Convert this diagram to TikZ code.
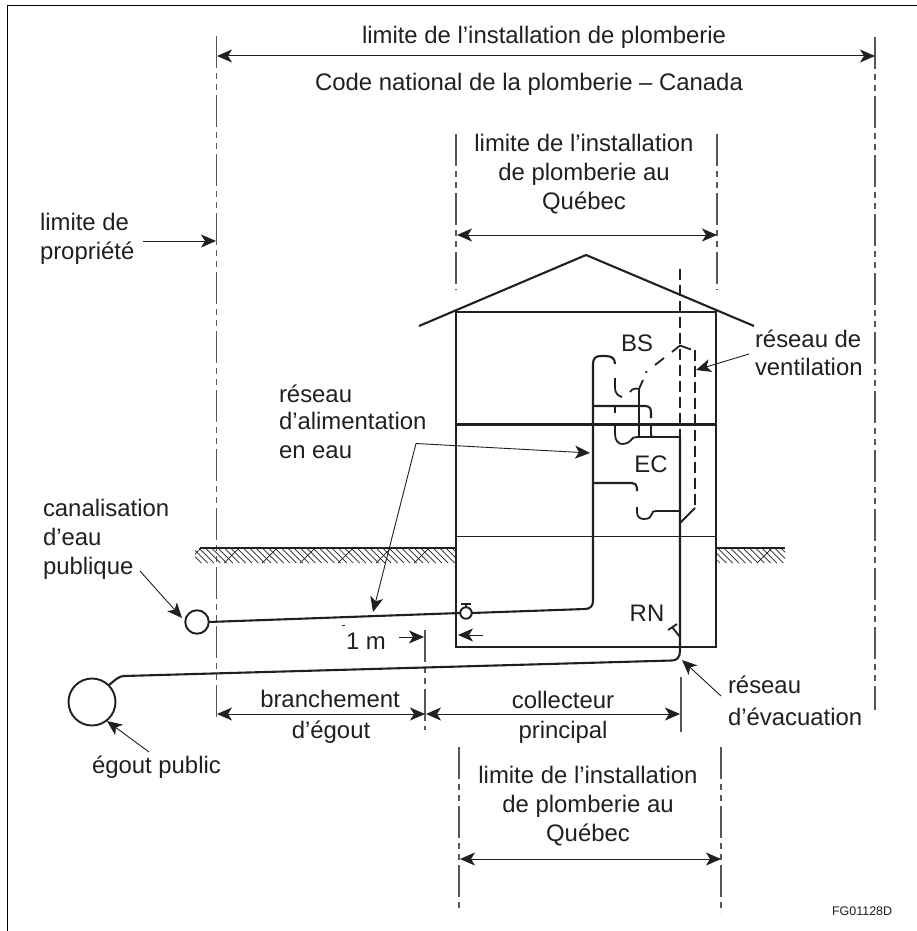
\documentclass[tikz,border=0pt]{standalone}
\usepackage{fontspec}
\setmainfont{Liberation Sans}
\usetikzlibrary{arrows.meta}
\definecolor{ink}{HTML}{231F20}
\tikzset{
  lbl/.style={font=\fontsize{23.9}{29}\selectfont,text=ink,inner sep=0pt,outer sep=0pt,anchor=base},
  lbll/.style={lbl,anchor=base west},
  frameline/.style={draw=black,line width=1.5pt},
  limit/.style={draw=ink!75,line width=1.1pt,dash pattern=on 32pt off 5pt on 6pt off 5pt on 6pt off 5pt},
  limitsolid/.style={draw=ink!75,line width=1.1pt},
  wall/.style={draw=ink,line width=2.1pt},
  thinwall/.style={draw=ink,line width=0.9pt},
  pipe/.style={draw=ink,line width=2.1pt},
  pipeb/.style={draw=ink,line width=1.8pt},
  ventd/.style={draw=ink,line width=1.9pt,dash pattern=on 11pt off 5pt},
  dim/.style={draw=ink,line width=1pt,{Stealth[length=15pt,width=13pt,inset=4pt]}-{Stealth[length=15pt,width=13pt,inset=4pt]}},
  lead/.style={draw=ink,line width=0.9pt,-{Stealth[length=15pt,width=13pt,inset=4pt]}},
  hatchl/.style={draw=ink,line width=0.7pt},
  pipenode/.style={circle,draw=ink,line width=1.9pt,inner sep=0pt,outer sep=0pt}
}
\begin{document}
\begin{tikzpicture}[x=1pt,y=-1pt]
\useasboundingbox (0,0) rectangle (917,931);
\fill[white] (0,0) rectangle (917,931);
% frame
\draw[frameline] (7.5,931) -- (7.5,5.5) -- (917,5.5);
% limit lines
\draw[limit] (216.5,36) -- (216.5,722);
\draw[limit] (875,37) -- (875,710);
\draw[limit] (456,134) -- (456,290);
\draw[limit] (717,134) -- (717,290);
\draw[limit] (425,630) -- (425,730);
\draw[limitsolid] (681,677) -- (681,732);
\draw[limit] (459,747) -- (459,913);
\draw[limit] (721,747) -- (721,913);
% named ends for dimension arrows
\coordinate (a1) at (217,56); \coordinate (a2) at (875,56);
\coordinate (q1) at (457,235); \coordinate (q2) at (717,235);
\coordinate (b1) at (217,714); \coordinate (b2) at (425,714);
\coordinate (c1) at (426,714); \coordinate (c2) at (680,714);
\coordinate (d1) at (460,859); \coordinate (d2) at (721,859);
\draw[dim] (a1) -- (a2);
\draw[dim] (q1) -- (q2);
\draw[dim] (b1) -- (b2);
\draw[dim] (c1) -- (c2);
\draw[dim] (d1) -- (d2);
% hatching
\begin{scope}
\clip (195,548) rectangle (456,563);
\foreach \x in {180,186.33,...,460} {\draw[hatchl] (\x,548) -- (\x+15,563);}
\foreach \x in {201,239,...,460} {\draw[hatchl] (\x,548) -- (\x-15,563);}
\end{scope}
\begin{scope}
\clip (717,548) rectangle (785,563);
\foreach \x in {705,711.33,...,790} {\draw[hatchl] (\x,548) -- (\x+15,563);}
\foreach \x in {772,810} {\draw[hatchl] (\x,548) -- (\x-15,563);}
\end{scope}
\draw[draw=ink,line width=1.1pt] (200,548) -- (456,548);
\draw[draw=ink,line width=1.1pt] (717,548) -- (785,548);
% house
\draw[wall] (419,326) -- (586,255) -- (754,326);
\draw[wall] (456,647) -- (456,312) -- (716,312) -- (716,647) -- cycle;
\draw[wall] (456,424.5) -- (716,424.5);
\draw[thinwall] (456,536) -- (716,536);
% mains
\node[pipenode,minimum size=23.5pt] (water) at (197,622) {};
\node[pipenode,minimum size=47pt] (sewer) at (92,702) {};
\node[pipenode,minimum size=11.5pt] (valve) at (466,613) {};
\draw[pipeb] (valve.north) ++(0,-3) -- (valve.north);
\draw[pipeb] (461,604) -- (471,604);
% water supply
\draw[pipe] (water.east) -- (valve.west);
\draw[pipe] (valve.east) -- (585,609) .. controls (590,609) and (593,606) .. (593,601)
  -- (593,364) .. controls (593,358) and (596,356) .. (601,356) -- (606,356)
  .. controls (612,356) and (615,359) .. (615,364);
\draw[pipeb] (615,378) -- (615,388) .. controls (615,393) and (618,396) .. (622,397);
\draw[pipe] (593,406) -- (645,406) .. controls (649,406) and (651,408) .. (651,412) -- (651,418);
\draw[pipeb] (651,425) -- (651,435) .. controls (651,436) and (652,437) .. (654,437);
\draw[pipe] (593,483) -- (632,483) .. controls (635,483) and (637,485) .. (637,488) -- (637,491);
% drain
\draw[pipeb] (615,406) -- (615,413);
\draw[pipeb] (615,425) -- (615,434) .. controls (615,440) and (618,444) .. (622,444)
  .. controls (628,444) and (630,441) .. (631,440) .. controls (632,438) and (634,437) .. (637,437) -- (680,437);
\draw[pipe] (680,437) -- (680,651) .. controls (680,657) and (677,660.5) .. (672,660.5) -- (124,676)
  .. controls (119,676) and (115,680) .. (sewer.45);
\draw[pipeb] (637,507) -- (637,512) .. controls (637,517) and (640,519) .. (644,519)
  .. controls (649,519) and (651,517) .. (652,514) .. controls (652,512) and (653,511) .. (656,511) -- (680,511);
\draw[pipeb] (639,437) -- (639,389) -- (636,388.5) .. controls (633,388.5) and (631,390) .. (630,392);
% vent
\draw[pipeb] (639,389) -- (643,380);
\draw[pipeb] (645.5,372.5) -- (647,371.5);
\draw[pipeb] (655,365) -- (664,358);
\draw[pipeb] (672,352) -- (680,345.5) -- (691,349.5);
\draw[ventd] (680,269) -- (680,437);
\draw[ventd] (695,350) -- (695,508);
\draw[pipeb] (695,508) -- (680,523);
% RN branch
\draw[pipeb] (668,630) -- (677,624);
\draw[pipeb] (672,627) -- (680,637);
\draw[thinwall] (342,625.5) -- (345,625.5);
% leaders
\coordinate (l1a) at (140,571); \coordinate (l1b) at (182,618);
\draw[lead] (l1a) -- (l1b);
\coordinate (l2a) at (149,752); \coordinate (l2b) at (107,721);
\draw[lead] (l2a) -- (l2b);
\coordinate (l3a) at (143,241); \coordinate (l3b) at (216,241);
\draw[lead] (l3a) -- (l3b);
\coordinate (l4a) at (749,354); \coordinate (l4b) at (696,370);
\draw[lead] (l4a) -- (l4b);
\coordinate (l5a) at (721,696); \coordinate (l5b) at (682,660);
\draw[lead] (l5a) -- (l5b);
\coordinate (l6) at (416,443.5); \coordinate (l6a) at (590,453); \coordinate (l6b) at (373,612);
\draw[lead] (l6) -- (l6a);
\draw[lead] (l6) -- (l6b);
\coordinate (m1a) at (399,637); \coordinate (m1b) at (424,637);
\draw[lead] (m1a) -- (m1b);
\coordinate (m2a) at (483,635); \coordinate (m2b) at (458,635);
\draw[lead] (m2a) -- (m2b);
% texts
\node[lbl] (t1) at (544,44) {limite de l’installation de plomberie};
\node[lbl] (t2) at (529,91) {Code national de la plomberie – Canada};
\node[lbl] (t3a) at (584,151) {limite de l’installation};
\node[lbl] (t3b) at (584,180) {de plomberie au};
\node[lbl] (t3c) at (584,209) {Québec};
\node[lbll] (t4a) at (40,230) {limite de};
\node[lbll] (t4b) at (40,259) {propriété};
\node[lbll] (t5a) at (755,347) {réseau de};
\node[lbll] (t5b) at (755,375) {ventilation};
\node[lbll] (t6a) at (279,402) {réseau};
\node[lbll] (t6b) at (279,429) {d’alimentation};
\node[lbll] (t6c) at (279,458) {en eau};
\node[lbll] (t7a) at (43,516) {canalisation};
\node[lbll] (t7b) at (43,545) {d’eau};
\node[lbll] (t7c) at (43,574) {publique};
\node[lbl] (bs) at (637,351) {BS};
\node[lbl] (ec) at (651,472) {EC};
\node[lbl] (rn) at (647,621) {RN};
\node[lbl] (onem) at (366,649) {1 m};
\node[lbl] (t8a) at (330,707) {branchement};
\node[lbl] (t8b) at (331,738) {d’égout};
\node[lbl] (t9a) at (563,708) {collecteur};
\node[lbl] (t9b) at (563,738) {principal};
\node[lbll] (t10a) at (728,693) {réseau};
\node[lbll] (t10b) at (728,725) {d’évacuation};
\node[lbll] (t11) at (92,773) {égout public};
\node[lbl] (t12a) at (588,783) {limite de l’installation};
\node[lbl] (t12b) at (588,812) {de plomberie au};
\node[lbl] (t12c) at (588,841) {Québec};
\node[lbll,font=\fontsize{12.5}{15}\selectfont] (fg) at (832,915) {FG01128D};
\end{tikzpicture}
\end{document}
